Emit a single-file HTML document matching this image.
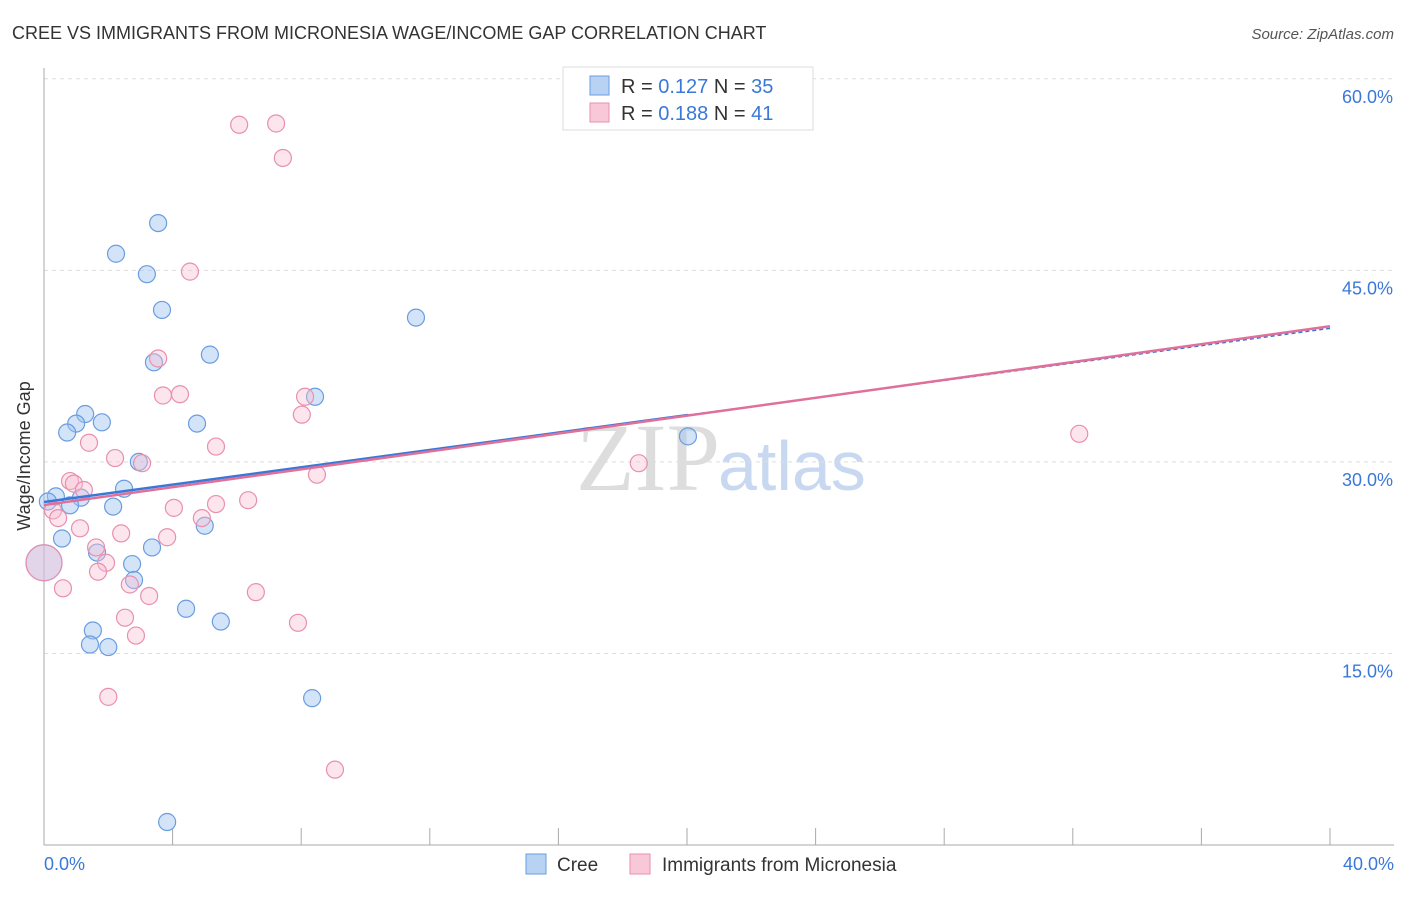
<!DOCTYPE html>
<html><head><meta charset="utf-8"><style>
body{margin:0;background:#fff;font-family:"Liberation Sans",sans-serif}
</style></head><body>
<svg width="1406" height="892" xmlns="http://www.w3.org/2000/svg" font-family="Liberation Sans, sans-serif">
<text x="12" y="39" font-size="18" fill="#333">CREE VS IMMIGRANTS FROM MICRONESIA WAGE/INCOME GAP CORRELATION CHART</text>
<text x="1394" y="39" font-size="15" fill="#555" font-style="italic" text-anchor="end">Source: ZipAtlas.com</text>
<text x="720" y="490" font-size="96" fill="#ddd" text-anchor="end" font-family="Liberation Serif, serif">ZIP</text>
<text x="718" y="490" font-size="70" fill="#c8d8f0">atlas</text>
<g id="grid"></g>
<line x1="44" y1="68" x2="44" y2="845" stroke="#aaa"/>
<line x1="44" y1="845" x2="1394" y2="845" stroke="#aaa"/>
<text x="30" y="456" font-size="18" fill="#333" text-anchor="middle" transform="rotate(-90 30 456)">Wage/Income Gap</text>
<g id="pts"></g>
<g id="lines"></g>
<rect x="563" y="67" width="250" height="63" fill="#fff" stroke="#ddd"/>
<rect x="590" y="76" width="19" height="19" fill="#b8d2f4" stroke="#6a9de0"/>
<rect x="590" y="103" width="19" height="19" fill="#f8c8d8" stroke="#e890ad"/>
<text x="621" y="93" font-size="20" fill="#333">R = <tspan fill="#3a78d8">0.127</tspan>   N = <tspan fill="#3a78d8">35</tspan></text>
<text x="621" y="120" font-size="20" fill="#333">R = <tspan fill="#3a78d8">0.188</tspan>   N =  <tspan fill="#3a78d8">41</tspan></text>
<rect x="526" y="854" width="20" height="20" fill="#b8d2f4" stroke="#6a9de0"/>
<text x="557" y="871" font-size="19" fill="#333">Cree</text>
<rect x="630" y="854" width="20" height="20" fill="#f8c8d8" stroke="#e890ad"/>
<text x="662" y="871" font-size="19" fill="#333">Immigrants from Micronesia</text>
</svg>
<script>
const yTicks=[15,30,45,60];
const yTickLabels=["15.0%","30.0%","45.0%","60.0%"];
const xTicks=[0,4,8,12,16,20,24,28,32,36,40];
const creeX=[3.55,2.24,3.2,3.67,5.16,3.42,11.57,8.43,1.28,1.0,1.8,0.72,4.76,2.95,2.49,0.37,1.15,0.81,2.15,0.12,0.56,5.0,3.36,1.65,2.74,2.8,4.42,5.5,1.52,1.43,2.0,8.34,3.83,20.03,0];
const creeY=[48.7,46.3,44.7,41.9,38.4,37.8,41.3,35.1,33.75,33.0,33.1,32.3,33.0,30.0,27.9,27.3,27.2,26.6,26.5,26.9,24.0,25.0,23.3,22.9,22.0,20.75,18.5,17.5,16.8,15.7,15.5,11.5,1.8,32.0,22.1];
const micX=[6.07,7.22,7.43,4.54,3.55,3.7,4.23,8.12,8.02,1.4,5.35,2.21,3.05,18.5,32.2,8.49,0.81,0.93,1.24,6.35,5.35,4.04,4.91,0.28,0.44,1.12,2.4,3.83,1.62,1.93,1.68,0,2.67,3.27,0.59,6.59,2.52,2.86,7.9,2.0,9.05];
const micY=[56.4,56.5,53.8,44.9,38.1,35.2,35.3,35.1,33.7,31.5,31.2,30.3,29.9,29.9,32.2,29.0,28.5,28.3,27.8,27.0,26.7,26.4,25.6,26.2,25.6,24.8,24.4,24.1,23.3,22.1,21.4,22.1,20.4,19.5,20.1,19.8,17.8,16.4,17.4,11.6,5.9];
const creeTrend=[26.86,0.34];
const micTrend=[26.62,0.35];
const NS="http://www.w3.org/2000/svg";
const X=v=>44+v*32.15, Y=v=>845-v*12.77;
function mk(t,a,p){const e=document.createElementNS(NS,t);for(const k in a)e.setAttribute(k,a[k]);document.getElementById(p).appendChild(e);return e;}
yTicks.forEach((t,i)=>{
 const g=mk('line',{x1:44,x2:1394,y1:Y(t),y2:Y(t),stroke:'#ddd','stroke-dasharray':'4,4'},'grid');
 
 
 const l=mk('text',{x:1393,y:Y(t)+24,'font-size':18,fill:'#3a78d8','text-anchor':'end'},'grid');
 l.textContent=yTickLabels[i];
 
 
});
xTicks.forEach(t=>{
 const k=mk('line',{x1:X(t),x2:X(t),y1:828,y2:845,stroke:'#aaa'},'grid');
 
 
});
[[0,"0.0%",'start',44],[40,"40.0%",'end',1394]].forEach(d=>{
 const l=mk('text',{x:d[3],y:870,'font-size':18,fill:'#3a78d8','text-anchor':d[2]},'grid');
 l.textContent=d[1];
 
 
});
function pts(xs,ys,fill,stroke,name){xs.forEach((x,i)=>{
 const c=mk('circle',{cx:X(x),cy:Y(ys[i]),r:x===0?18:8.5,fill:fill,stroke:stroke,'stroke-width':1.2},'pts');
 
 
});}
pts(creeX,creeY,'rgba(160,196,240,0.45)','#6a9de0','cree-point');
pts(micX,micY,'rgba(248,190,210,0.4)','#e890ad','micronesia-point');
const l1=mk('line',{x1:X(0),y1:Y(creeTrend[0]),x2:X(20.03),y2:Y(creeTrend[0]+creeTrend[1]*20.03),stroke:'#3a78d8','stroke-width':2.5},'lines');


const l1b=mk('line',{x1:X(20.03),y1:Y(creeTrend[0]+creeTrend[1]*20.03),x2:X(40),y2:Y(creeTrend[0]+creeTrend[1]*40),stroke:'#3a78d8','stroke-width':1.5,'stroke-dasharray':'4,3'},'lines');


const l2=mk('line',{x1:X(0),y1:Y(micTrend[0]),x2:X(40),y2:Y(micTrend[0]+micTrend[1]*40),stroke:'#e0709a','stroke-width':2.5},'lines');


</script>
</body></html>
